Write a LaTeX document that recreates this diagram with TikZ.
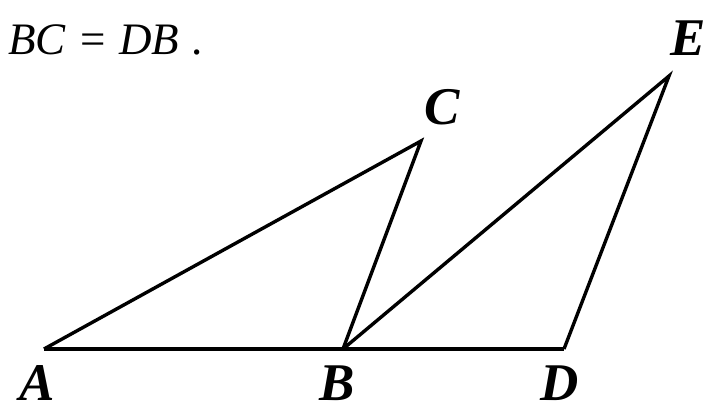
\documentclass[tikz,border=0pt]{standalone}
\usepackage{fontspec}
\setmainfont{Liberation Serif}
\usetikzlibrary{positioning}
\tikzset{
  segline/.style = {line width=3.4pt, black, line join=miter},
  ptlbl/.style   = {font=\fontsize{53}{55}\selectfont\bfseries\itshape, inner sep=0pt},
  txtlbl/.style  = {font=\fontsize{45}{47}\selectfont, inner sep=0pt},
}

\begin{document}
\begin{tikzpicture}[x=1pt,y=1pt]
  \useasboundingbox (0,0) rectangle (707,412);
  \coordinate (A) at (44,63);
  \coordinate (B) at (343,63);
  \coordinate (D) at (564,63);
  \coordinate (C) at (421,271);
  \coordinate (E) at (669,336);
  \draw[segline] (A) -- (D);
  \draw[segline] (A) -- (C) -- (B);
  \draw[segline] (B) -- (E) -- (D);
  \node[ptlbl] (lA) at (37,29) {A};
  \node[ptlbl] (lB) at (337,29) {B};
  \node[ptlbl] (lD) at (560,29) {D};
  \node[ptlbl] (lC) at (442,305) {C};
  \node[ptlbl] (lE) at (688,374) {E};
  \node[txtlbl, anchor=base west] (eq) at (8,357)
    {\textit{BC}\hspace{14pt}=\hspace{14pt}\textit{DB}\hspace{12pt}.};
\end{tikzpicture}
\end{document}
